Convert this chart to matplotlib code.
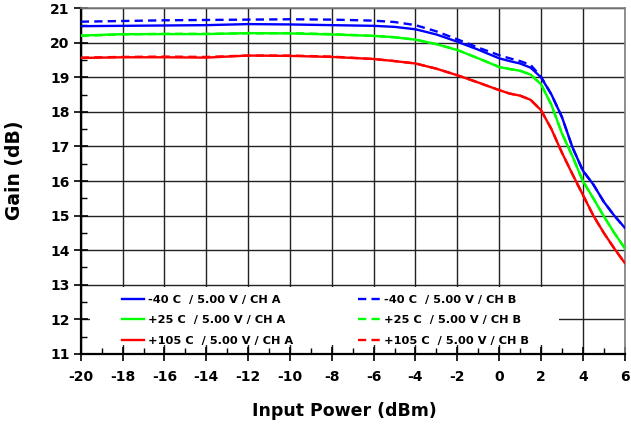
import matplotlib
matplotlib.use("Agg")
from matplotlib import pyplot as plt
from matplotlib.patches import Rectangle
from matplotlib.ticker import MultipleLocator

# input power (dBm)
pin = [-20, -18, -16, -14, -12, -10, -8, -6, -5, -4, -3, -2, -1, 0, 0.5, 1, 1.5, 2,
       2.5, 3, 3.5, 4, 4.5, 5, 5.5, 6]

# gain (dB), channel A
gain_m40_a = [20.48, 20.49, 20.50, 20.51, 20.54, 20.53, 20.51, 20.49, 20.46, 20.39, 20.24, 20.03,
              19.80, 19.55, 19.47, 19.40, 19.28, 19.00, 18.50, 17.85, 16.98, 16.30, 15.90, 15.40,
              15.00, 14.65]
gain_25_a = [20.21, 20.25, 20.25, 20.25, 20.28, 20.27, 20.24, 20.20, 20.16, 20.09, 19.96, 19.79,
             19.55, 19.30, 19.24, 19.19, 19.08, 18.80, 18.20, 17.38, 16.72, 16.00, 15.50, 14.98,
             14.50, 14.06]
gain_105_a = [19.56, 19.58, 19.58, 19.57, 19.63, 19.62, 19.59, 19.53, 19.47, 19.40, 19.25, 19.06,
              18.85, 18.63, 18.53, 18.47, 18.35, 18.05, 17.50, 16.82, 16.20, 15.60, 15.00, 14.50,
              14.05, 13.63]

# gain (dB), channel B
gain_m40_b = [20.61, 20.63, 20.65, 20.66, 20.67, 20.68, 20.67, 20.64, 20.60, 20.51, 20.33, 20.10,
              19.86, 19.64, 19.55, 19.47, 19.36, 19.02, 18.50, 17.85, 16.98, 16.30, 15.90, 15.40,
              15.00, 14.65]
gain_25_b = [20.20, 20.24, 20.26, 20.26, 20.27, 20.28, 20.25, 20.20, 20.16, 20.09, 19.96, 19.79,
             19.55, 19.30, 19.24, 19.19, 19.08, 18.80, 18.20, 17.38, 16.72, 16.00, 15.50, 14.98,
             14.50, 14.06]
gain_105_b = [19.57, 19.59, 19.60, 19.59, 19.63, 19.63, 19.60, 19.53, 19.47, 19.40, 19.25, 19.06,
              18.85, 18.63, 18.53, 18.47, 18.35, 18.05, 17.50, 16.82, 16.20, 15.60, 15.00, 14.50,
              14.05, 13.63]

labels_a = ["-40 C  / 5.00 V / CH A", "+25 C  / 5.00 V / CH A", "+105 C  / 5.00 V / CH A"]
labels_b = ["-40 C  / 5.00 V / CH B", "+25 C  / 5.00 V / CH B", "+105 C  / 5.00 V / CH B"]
colors = ["#0000ff", "#00ff00", "#ff0000"]

plt.rcParams["font.family"] = "DejaVu Sans"
plt.rcParams["font.weight"] = "bold"
plt.rcParams["axes.unicode_minus"] = False

fig = plt.figure(figsize=(6.31, 4.32), dpi=100)
ax = fig.add_axes([0.128, 0.181, 0.862, 0.8])

series_a = [gain_m40_a, gain_25_a, gain_105_a]
series_b = [gain_m40_b, gain_25_b, gain_105_b]
for g, lab, c in zip(series_a, labels_a, colors):
    ax.plot(pin, g, color=c, lw=1.7, label=lab, zorder=4)
for g, lab, c in zip(series_b, labels_b, colors):
    ax.plot(pin, g, color=c, lw=1.7, ls=(0, (3.5, 2.2)), label=lab, zorder=3)

ax.set_xlim(-20, 6)
ax.set_ylim(11, 21)
ax.xaxis.set_major_locator(MultipleLocator(2))
ax.xaxis.set_minor_locator(MultipleLocator(1))
ax.yaxis.set_major_locator(MultipleLocator(1))
ax.yaxis.set_minor_locator(MultipleLocator(0.5))
ax.grid(True, which="major", color="#222222", lw=1.0)
ax.tick_params(which="major", direction="inout", length=10, width=1.2, labelsize=10)
ax.tick_params(axis="x", which="major", pad=7)
ax.tick_params(axis="y", which="major", pad=3)
ax.tick_params(which="minor", direction="in", length=4, width=1.0)
for lbl in ax.get_xticklabels() + ax.get_yticklabels():
    lbl.set_fontweight("bold")

for s in ["left", "bottom"]:
    ax.spines[s].set_linewidth(1.6)
    ax.spines[s].set_color("black")
for s in ["top", "right"]:
    ax.spines[s].set_linewidth(1.2)
    ax.spines[s].set_color("#808080")

ax.set_xlabel("Input Power (dBm)", fontsize=12.5, fontweight="bold", va="center")
ax.set_ylabel("Gain (dB)", fontsize=13.5, fontweight="bold", va="center")
ax.xaxis.set_label_coords(0.484, -0.165)
ax.yaxis.set_label_coords(-0.121, 0.532)

# white box behind the legend hides the grid there
ax.add_patch(Rectangle((0.0165, 0.026), 0.862, 0.168, transform=ax.transAxes,
                       facecolor="white", edgecolor="none", zorder=2))

leg = ax.legend(loc="upper left", bbox_to_anchor=(0.075, 0.17), ncol=2, frameon=False,
                fontsize=8.2, handlelength=2.0, handletextpad=0.3, labelspacing=0.9,
                columnspacing=5.7, borderpad=0, borderaxespad=0)
leg.set_zorder(5)
for t in leg.get_texts():
    t.set_fontweight("bold")

fig.savefig("out.png", dpi=100)
